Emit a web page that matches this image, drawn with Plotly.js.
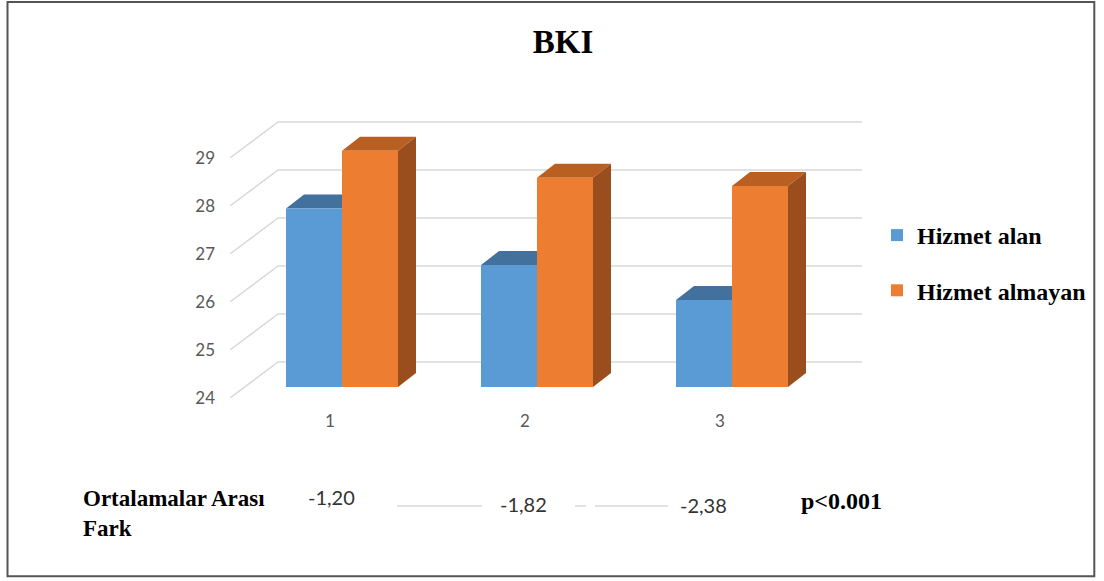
<!DOCTYPE html>
<html>
<head>
<meta charset="utf-8">
<script src="https://cdn.plot.ly/plotly-3.0.1.min.js"></script>
<style>html,body{margin:0;padding:0;background:#fff;}</style>
</head>
<body>
<div id="chart" style="width:1104px;height:581px;"></div>
<script>
// ---- data ----
const categories = ['1', '2', '3'];
const hizmetAlan = [27.72, 26.54, 25.81];
const hizmetAlmayan = [28.92, 28.36, 28.19];
const seriesNames = ['Hizmet alan', 'Hizmet almayan'];
const yTicks = [24, 25, 26, 27, 28, 29];
const farklar = ['-1,20', '-1,82', '-2,38'];
const rowLabel = 'Ortalamalar Arası<br>Fark';
const pText = 'p<0.001';
const chartTitle = 'BKI';

// ---- layout geometry ----
const W = 1104, H = 581;
const M = {l: 230, r: 242, t: 110, b: 183};
const plotW = W - M.l - M.r, plotH = H - M.t - M.b;
const PXX = 195, PXY = 48;                 // pixels per x unit / y unit
const BASE = 24;
const depth = {x: 48, y: 36};              // floor depth (front -> back wall), px
const barFrac = 11 / 36;                   // bar front plane position in depth
const barDepth = {x: 18, y: 14};           // bar thickness, px
const xs = categories.map((c, i) => i + 1);
const X0 = 1 - 112 / PXX, X1 = X0 + plotW / PXX;
const Y0 = BASE - barFrac * depth.y / PXY, Y1 = Y0 + plotH / PXY;
const bargap = 1 - 2 * 56 / PXX;
const bw = (1 - bargap) / 2;
const bdx = barDepth.x / PXX, bdy = barDepth.y / PXY;

const colors = {
  blue: '#5B9BD5', blueTop: '#41719C',
  orange: '#ED7D31', orangeTop: '#BA5F22', orangeSide: '#9A4E1D',
  grid: '#D9D9D9'
};

// pixel -> paper helpers (for page decorations outside plot)
const px2x = p => (p - M.l) / plotW;
const px2y = p => (H - M.b - p) / plotH;

const shapes = [];
// 3D-style gridlines: front-left diagonal + back wall line
yTicks.forEach(v => {
  const yf = v - barFrac * depth.y / PXY;
  const yb = v + (1 - barFrac) * depth.y / PXY;
  const xb = X0 + depth.x / PXX;
  shapes.push({type: 'path', xref: 'x', yref: 'y', layer: 'below',
    path: `M ${X0},${yf} L ${xb},${yb} L ${X1},${yb}`,
    line: {color: colors.grid, width: 1.5}});
});
// bar tops and sides
function topPath(x0, x1, v) {
  return `M ${x0},${v} L ${x1},${v} L ${x1 + bdx},${v + bdy} L ${x0 + bdx},${v + bdy} Z`;
}
xs.forEach((x, i) => {
  const a = hizmetAlan[i], b = hizmetAlmayan[i];
  shapes.push({type: 'path', xref: 'x', yref: 'y', layer: 'below',
    path: topPath(x - bw, x, a), fillcolor: colors.blueTop, line: {width: 0}});
  shapes.push({type: 'path', xref: 'x', yref: 'y', layer: 'below',
    path: topPath(x, x + bw, b), fillcolor: colors.orangeTop, line: {width: 0}});
  shapes.push({type: 'path', xref: 'x', yref: 'y', layer: 'below',
    path: `M ${x + bw},${BASE} L ${x + bw},${b} L ${x + bw + bdx},${b + bdy} L ${x + bw + bdx},${BASE + bdy} Z`,
    fillcolor: colors.orangeSide, line: {width: 0}});
});
// faint table lines below chart
[[397, 482], [575, 586], [595, 668]].forEach(s => {
  shapes.push({type: 'line', xref: 'paper', yref: 'paper',
    x0: px2x(s[0]), x1: px2x(s[1]), y0: px2y(506), y1: px2y(506),
    line: {color: colors.grid, width: 1.5}});
});
// outer frame
shapes.push({type: 'rect', xref: 'paper', yref: 'paper',
  x0: px2x(7.5), x1: px2x(1094.3), y0: px2y(576.3), y1: px2y(2),
  line: {color: '#555555', width: 2}, fillcolor: 'rgba(0,0,0,0)'});

const serif = "'Liberation Serif', 'Times New Roman', serif";
const sans = "Lato, 'Open Sans', sans-serif";

const annotations = [];
annotations.push({xref: 'paper', yref: 'paper', x: px2x(81), y: px2y(484),
  xanchor: 'left', yanchor: 'top', align: 'left', showarrow: false,
  text: '<b>' + rowLabel + '</b>',
  font: {family: serif, size: 23, color: '#000'}});
const diffPos = [[331, 497], [523, 504], [703, 505]];
farklar.forEach((t, i) => {
  annotations.push({xref: 'paper', yref: 'paper', x: px2x(diffPos[i][0]), y: px2y(diffPos[i][1]),
    xanchor: 'center', yanchor: 'middle', showarrow: false, text: t,
    font: {family: sans, size: 20, color: '#333333'}});
});
annotations.push({xref: 'paper', yref: 'paper', x: px2x(841), y: px2y(501),
  xanchor: 'center', yanchor: 'middle', showarrow: false, text: '<b>' + pText.replace('<', '&lt;') + '</b>',
  font: {family: serif, size: 24, color: '#000'}});

const traces = [
  {type: 'bar', name: seriesNames[0], x: xs, y: hizmetAlan.map(v => v - BASE), base: BASE,
   marker: {color: colors.blue, line: {width: 0}}, legendgroup: 'a', hoverinfo: 'skip'},
  {type: 'bar', name: seriesNames[1], x: xs, y: hizmetAlmayan.map(v => v - BASE), base: BASE,
   marker: {color: colors.orange, line: {width: 0}}, legendgroup: 'b', hoverinfo: 'skip'}
];

const layout = {
  width: W, height: H, autosize: false,
  margin: M,
  paper_bgcolor: '#fff', plot_bgcolor: 'rgba(0,0,0,0)',
  barmode: 'group', bargap: bargap, bargroupgap: 0,
  title: {text: '<b>' + chartTitle + '</b>', x: 563 / W, xanchor: 'center',
          y: 1 - 41 / H, yanchor: 'middle', yref: 'container',
          font: {family: serif, size: 33, color: '#000'}},
  xaxis: {range: [X0, X1], tickvals: xs, ticktext: categories,
          showgrid: false, zeroline: false, showline: false, ticks: '',
          ticklabelshift: -12, ticklabelstandoff: 11,
          tickfont: {family: sans, size: 17, color: '#595959'}, fixedrange: true},
  yaxis: {range: [Y0, Y1], tickvals: yTicks, ticktext: yTicks.map(String),
          showgrid: false, zeroline: false, showline: false, ticks: '',
          ticklabelshift: 11, ticklabelstandoff: 14,
          tickfont: {family: sans, size: 17, color: '#595959'}, fixedrange: true},
  showlegend: true,
  legend: {x: px2x(877), y: px2y(213), xanchor: 'left', yanchor: 'top',
           traceorder: 'grouped', tracegroupgap: 21, bgcolor: 'rgba(0,0,0,0)',
           font: {family: serif, size: 24, color: '#000', weight: 'bold'}},
  shapes: shapes,
  annotations: annotations
};

Plotly.newPlot('chart', traces, layout, {displayModeBar: false, staticPlot: true});
</script>
</body>
</html>
